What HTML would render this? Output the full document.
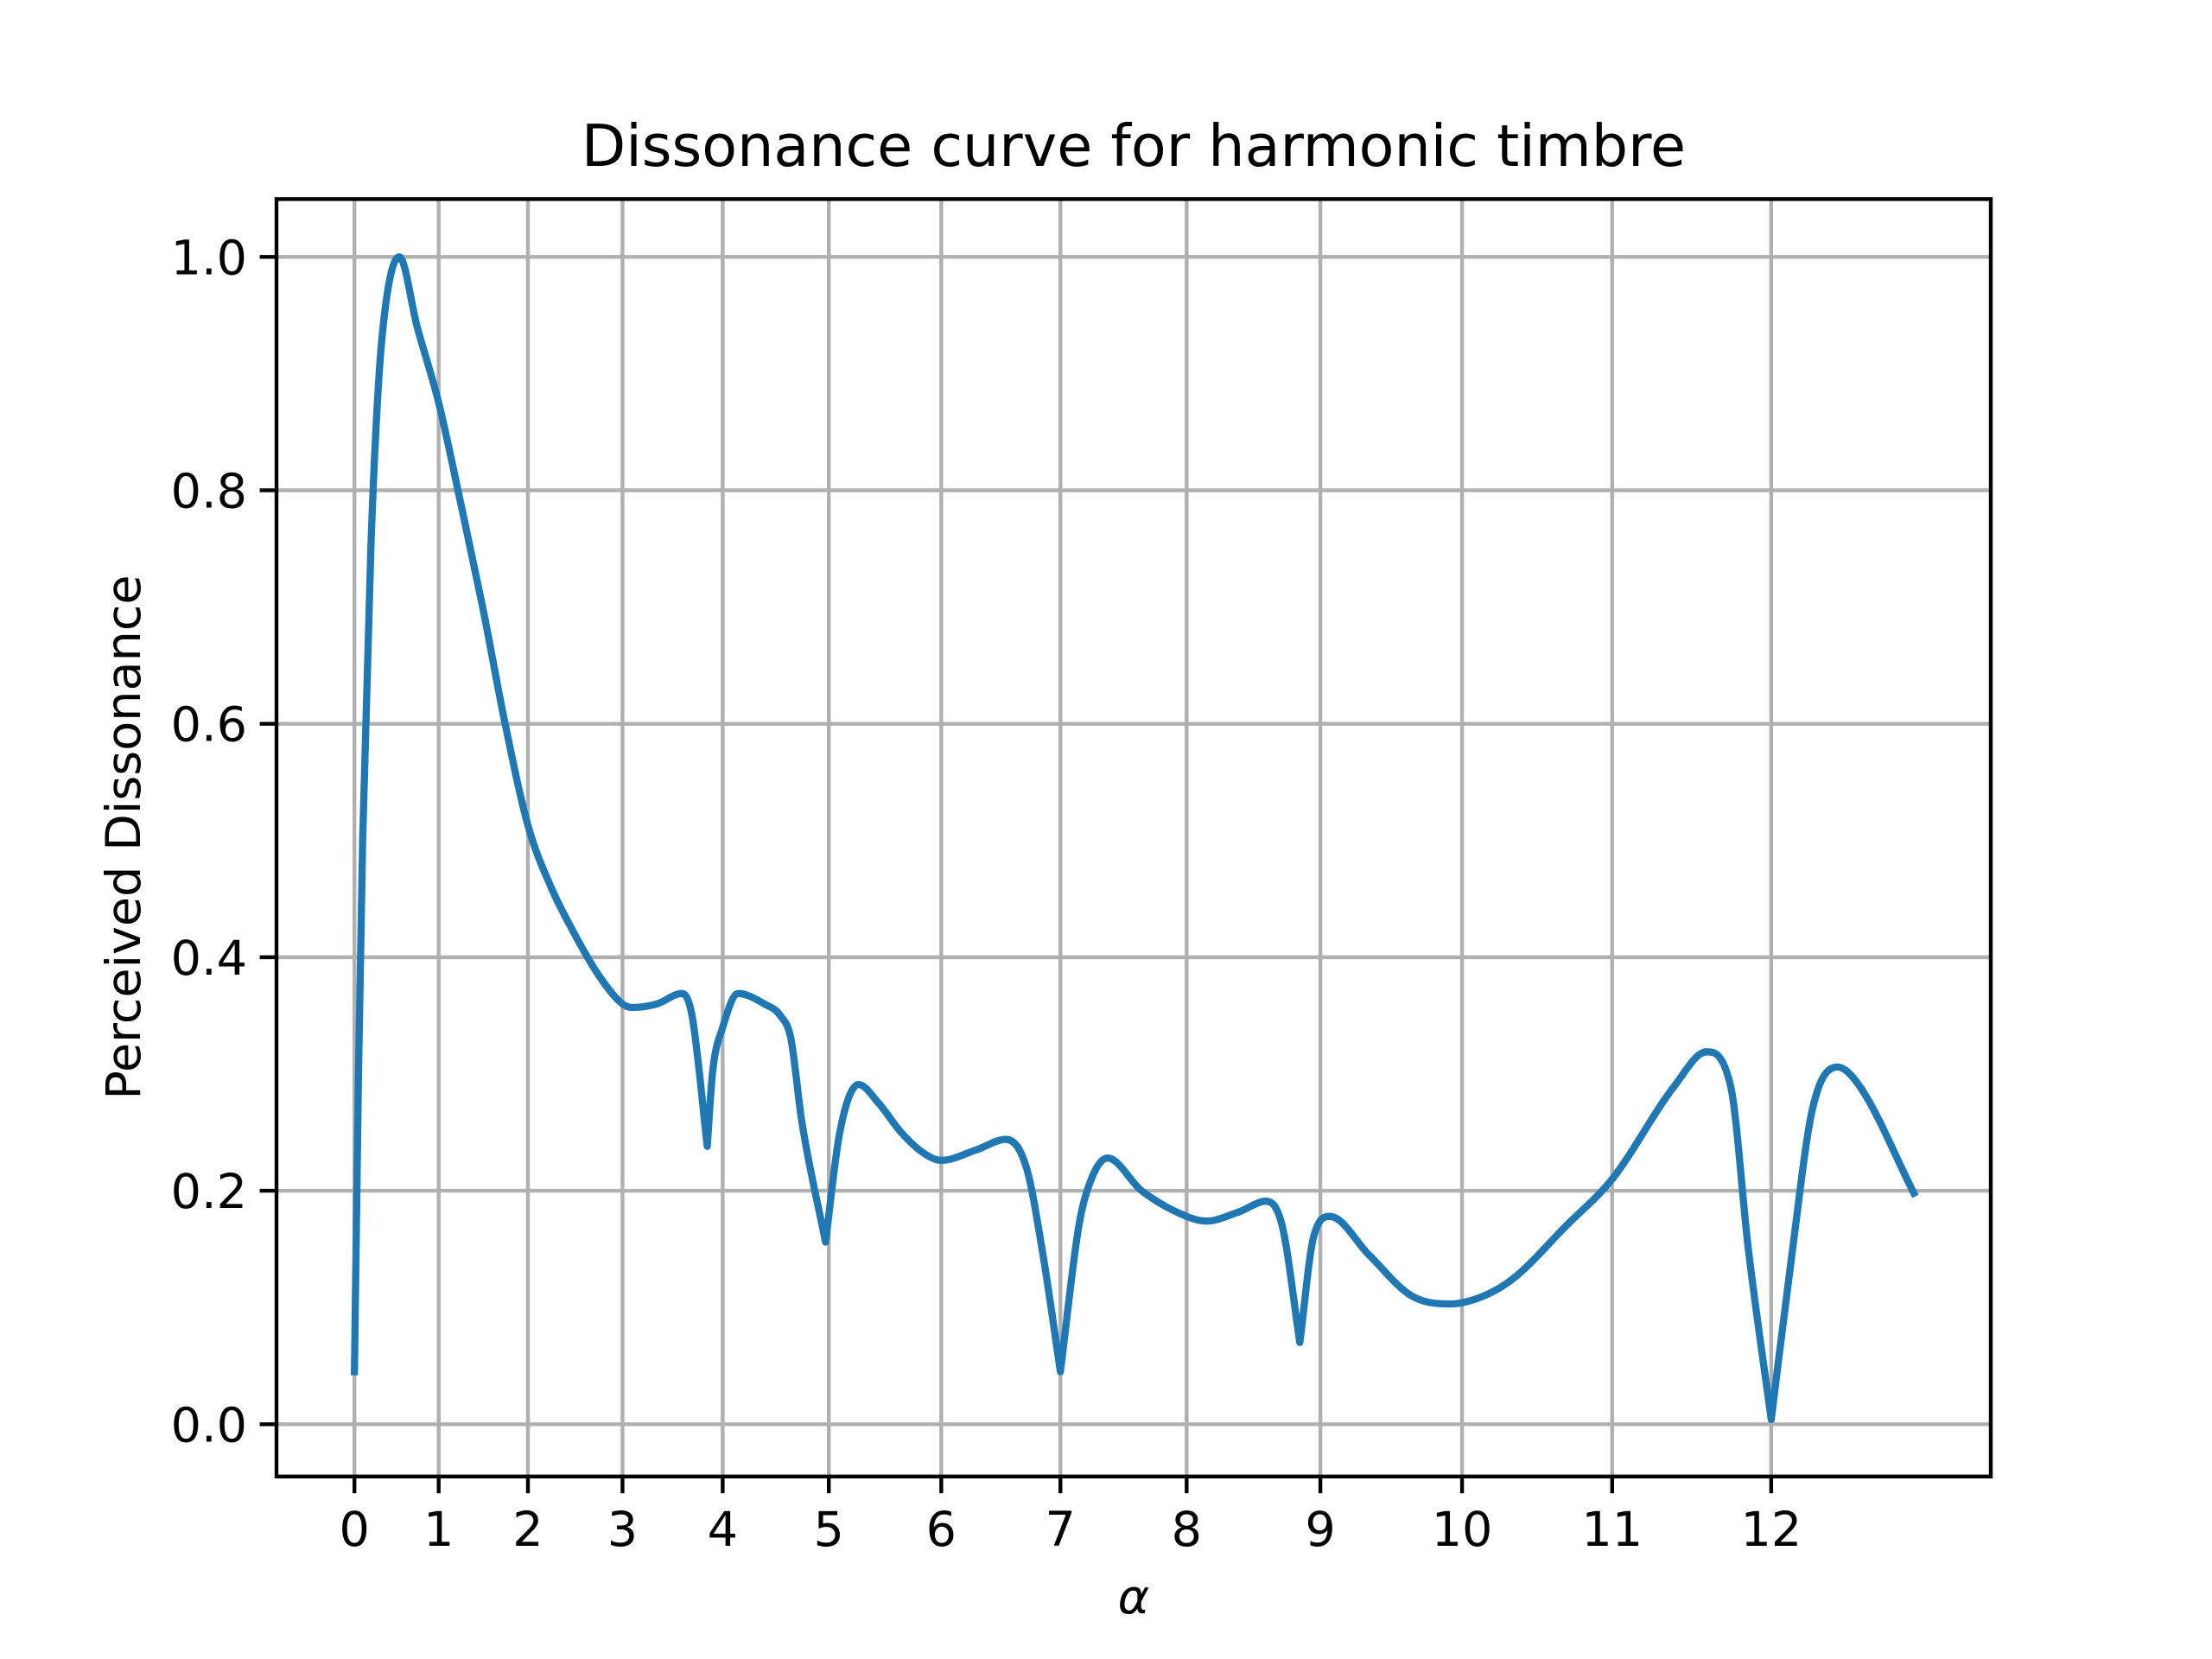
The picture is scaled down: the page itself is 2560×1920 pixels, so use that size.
<!DOCTYPE html>
<html><head><meta charset="utf-8"><style>
html,body{margin:0;padding:0;background:#fff;}
svg{display:block;font-family:"DejaVu Sans","Liberation Sans",sans-serif;}
</style></head><body>
<svg id="chart" width="2560" height="1920" viewBox="0 0 2560 1920" xmlns="http://www.w3.org/2000/svg">
<rect width="2560" height="1920" fill="#fff"/>
<g id="grid"></g>
<g id="series"></g>
<g id="axes"></g>
<text x="1312" y="192" font-size="66.7" text-anchor="middle">Dissonance curve for harmonic timbre</text>
<text x="1312" y="1867" font-size="55.6" font-style="italic" text-anchor="middle">α</text>
<text transform="translate(162,969) rotate(-90)" font-size="55.6" text-anchor="middle">Perceived Dissonance</text>
</svg>
<script>
const alphaVals=[0,0.05,0.1,0.2,0.3,0.4,0.54,0.75,1,1.25,1.5,1.75,2,2.25,2.5,2.75,3,3.1,3.35,3.6,3.7,3.85,3.9,4,4.15,4.4,4.55,4.65,4.75,4.97,5.1,5.27,5.45,5.65,5.85,6,6.3,6.55,6.72,6.85,7.0,7.15,7.25,7.38,7.65,8,8.15,8.4,8.6,8.72,8.85,8.95,9.07,9.35,9.65,9.92,10.15,10.35,10.7,11,11.4,11.6,11.75,11.86,12,12.13,12.25,12.4,12.53,12.85];
const dissVals=[0.045,0.3,0.5,0.75,0.9,0.97,1.0,0.94,0.875,0.79,0.7,0.6,0.513,0.46,0.42,0.385,0.36,0.357,0.36,0.369,0.35,0.238,0.3,0.34,0.369,0.36,0.35,0.33,0.26,0.156,0.25,0.291,0.275,0.25,0.232,0.226,0.235,0.244,0.22,0.15,0.045,0.17,0.21,0.228,0.2,0.178,0.174,0.182,0.191,0.17,0.07,0.16,0.178,0.145,0.11,0.103,0.11,0.125,0.17,0.21,0.29,0.319,0.29,0.15,0.004,0.15,0.27,0.306,0.29,0.198];
const xTicks=[0,1,2,3,4,5,6,7,8,9,10,11,12];
const yTicks=[0,0.2,0.4,0.6,0.8,1.0];
const yTickLabels=["0.0","0.2","0.4","0.6","0.8","1.0"];
const L=320,R=2304,T=230.4,B=1708.8;
const rMin=0.945,rMax=2.155,yMin=-0.0448,yMax=1.0495;
function xs(a){const r=Math.pow(2,a/12);return L+(r-rMin)/(rMax-rMin)*(R-L);}
function ys(v){return B-(v-yMin)/(yMax-yMin)*(B-T);}
const NS="http://www.w3.org/2000/svg";
function mk(tag,attrs,parent){const e=document.createElementNS(NS,tag);for(const k in attrs)e.setAttribute(k,attrs[k]);parent.appendChild(e);return e;}
const grid=document.getElementById('grid'),axes=document.getElementById('axes'),series=document.getElementById('series');
xTicks.forEach((t)=>{const x=xs(t);
 const g=mk('line',{x1:x,x2:x,y1:T,y2:B,stroke:'#b0b0b0','stroke-width':4.4},grid);
 
 
 const tk=mk('line',{x1:x,x2:x,y1:B,y2:B+19.4,stroke:'#000','stroke-width':4.4},axes);
 
 
 const lb=mk('text',{x:x,y:B+80,'font-size':55.6,'text-anchor':'middle'},axes);
 lb.textContent=String(t);
 
 
});
yTicks.forEach((t,i)=>{const y=ys(t);
 const g=mk('line',{x1:L,x2:R,y1:y,y2:y,stroke:'#b0b0b0','stroke-width':4.4},grid);
 
 
 const tk=mk('line',{x1:L-19.4,x2:L,y1:y,y2:y,stroke:'#000','stroke-width':4.4},axes);
 
 
 const lb=mk('text',{x:L-34,y:y+20,'font-size':55.6,'text-anchor':'end'},axes);
 lb.textContent=yTickLabels[i];
 
 
});
const fr=mk('rect',{x:L,y:T,width:R-L,height:B-T,fill:'none',stroke:'#000','stroke-width':4.4},axes);



// Hermite spline in pixel space; monotone (Fritsch-Carlson) tangents, cusps at sharp minima
const n=alphaVals.length;
const px=alphaVals.map(xs), py=dissVals.map(ys);
const sec=[];for(let i=0;i<n-1;i++)sec.push((py[i+1]-py[i])/(px[i+1]-px[i]));
const m=new Array(n);
m[0]=sec[0];m[n-1]=sec[n-2];
for(let i=1;i<n-1;i++){ if(sec[i-1]*sec[i]<=0)m[i]=0; else m[i]=(sec[i-1]+sec[i])/2; }
for(let i=0;i<n-1;i++){ if(sec[i]===0){m[i]=0;m[i+1]=0;continue;}
 const a=m[i]/sec[i],b=m[i+1]/sec[i];const s=a*a+b*b;
 if(s>9){const t=3/Math.sqrt(s);m[i]=t*a*sec[i];m[i+1]=t*b*sec[i];}}
const cusp=new Array(n).fill(false);
for(let i=1;i<n-1;i++){ if(dissVals[i]<dissVals[i-1]&&dissVals[i]<dissVals[i+1]&&Math.abs(sec[i-1])>1.2&&Math.abs(sec[i])>1.2)cusp[i]=true; }
let d='M'+px[0].toFixed(1)+','+py[0].toFixed(1);
for(let i=0;i<n-1;i++){
 const h=px[i+1]-px[i];
 const m0=cusp[i]?sec[i]:m[i], m1=cusp[i+1]?sec[i]:m[i+1];
 const c1x=px[i]+h/3,c1y=py[i]+m0*h/3,c2x=px[i+1]-h/3,c2y=py[i+1]-m1*h/3;
 d+=' C'+c1x.toFixed(1)+','+c1y.toFixed(1)+' '+c2x.toFixed(1)+','+c2y.toFixed(1)+' '+px[i+1].toFixed(1)+','+py[i+1].toFixed(1);
}
const pl=mk('path',{d:d,fill:'none',stroke:'#1f77b4','stroke-width':8.3,'stroke-linejoin':'round','stroke-linecap':'square'},series);


</script>
</body></html>
